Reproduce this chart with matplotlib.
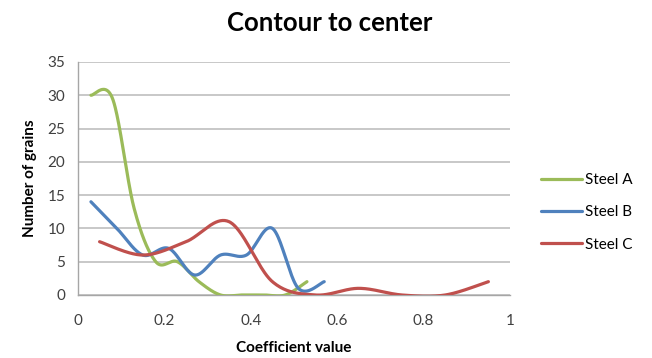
import matplotlib.pyplot as plt
import numpy as np

# Coefficient value positions and grain counts for each steel
steel_a_x = [0.03, 0.08, 0.13, 0.18, 0.23, 0.28, 0.33, 0.38, 0.43, 0.48, 0.53]
steel_a_y = [30, 29.5, 13, 5, 5, 2, 0, 0, 0, 0, 2]

steel_b_x = [0.03, 0.09, 0.15, 0.21, 0.27, 0.33, 0.39, 0.45, 0.51, 0.57]
steel_b_y = [14, 10, 6, 7, 3, 6, 6, 10, 1, 2]

steel_c_x = [0.05, 0.15, 0.25, 0.35, 0.45, 0.55, 0.65, 0.75, 0.85, 0.95]
steel_c_y = [8, 6, 8, 11, 2, 0, 1, 0, 0, 2]

series = [
    ("Steel A", steel_a_x, steel_a_y, "#9BBB59"),
    ("Steel B", steel_b_x, steel_b_y, "#4F81BD"),
    ("Steel C", steel_c_x, steel_c_y, "#C0504D"),
]


def smooth_line(xs, ys, n=40):
    """Bezier smoothing through every point, spreadsheet style."""
    pts = np.column_stack([xs, ys]).astype(float)
    padded = np.vstack([pts[0], pts, pts[-1]])
    t = np.linspace(0, 1, n)[:, None]
    segs = []
    for i in range(len(pts) - 1):
        p0, p1, p2, p3 = padded[i], padded[i + 1], padded[i + 2], padded[i + 3]
        c1 = p1 + (p2 - p0) / 6
        c2 = p2 - (p3 - p1) / 6
        seg = ((1 - t) ** 3) * p1 + 3 * ((1 - t) ** 2) * t * c1 \
            + 3 * (1 - t) * (t ** 2) * c2 + (t ** 3) * p2
        segs.append(seg if i == 0 else seg[1:])
    curve = np.vstack(segs)
    return curve[:, 0], curve[:, 1]


plt.rcParams['font.family'] = ['Lato', 'DejaVu Sans']

fig = plt.figure(figsize=(6.52, 3.58), dpi=100)
ax = fig.add_axes([0.1196, 0.176, 0.6626, 0.651])

for label, xs, ys, color in series:
    sx, sy = smooth_line(xs, ys)
    ax.plot(sx, sy, color=color, linewidth=2.3, label=label,
            solid_capstyle='round', zorder=3)

ax.set_xlim(0, 1)
ax.set_ylim(0, 35)
ax.set_xticks([0, 0.2, 0.4, 0.6, 0.8, 1])
ax.set_xticklabels(['0', '0.2', '0.4', '0.6', '0.8', '1'])
ax.set_yticks(range(0, 36, 5))

ax.grid(axis='y', color='#BFBFBF', linewidth=1.2)
ax.set_axisbelow(True)
for side in ['top', 'right']:
    ax.spines[side].set_visible(False)
for side in ['left', 'bottom']:
    ax.spines[side].set_color('#A6A6A6')
    ax.spines[side].set_linewidth(1.0)

ax.tick_params(axis='both', length=0, labelsize=11, colors='#404040')
ax.tick_params(axis='x', pad=14)
ax.tick_params(axis='y', pad=9)

ax.set_xlabel('Coefficient value', fontsize=11, fontweight='bold', labelpad=9)
ax.set_ylabel('Number of grains', fontsize=11, fontweight='bold', labelpad=8)
fig.suptitle('Contour to center', fontsize=18.5, fontweight='bold',
             x=0.505, y=0.97)

ax.legend(loc='center left', bbox_to_anchor=(1.04, 0.355), frameon=False,
          fontsize=11, handlelength=2.7, handletextpad=0.15, labelspacing=1.2)

fig.savefig('out.png', dpi=100)
